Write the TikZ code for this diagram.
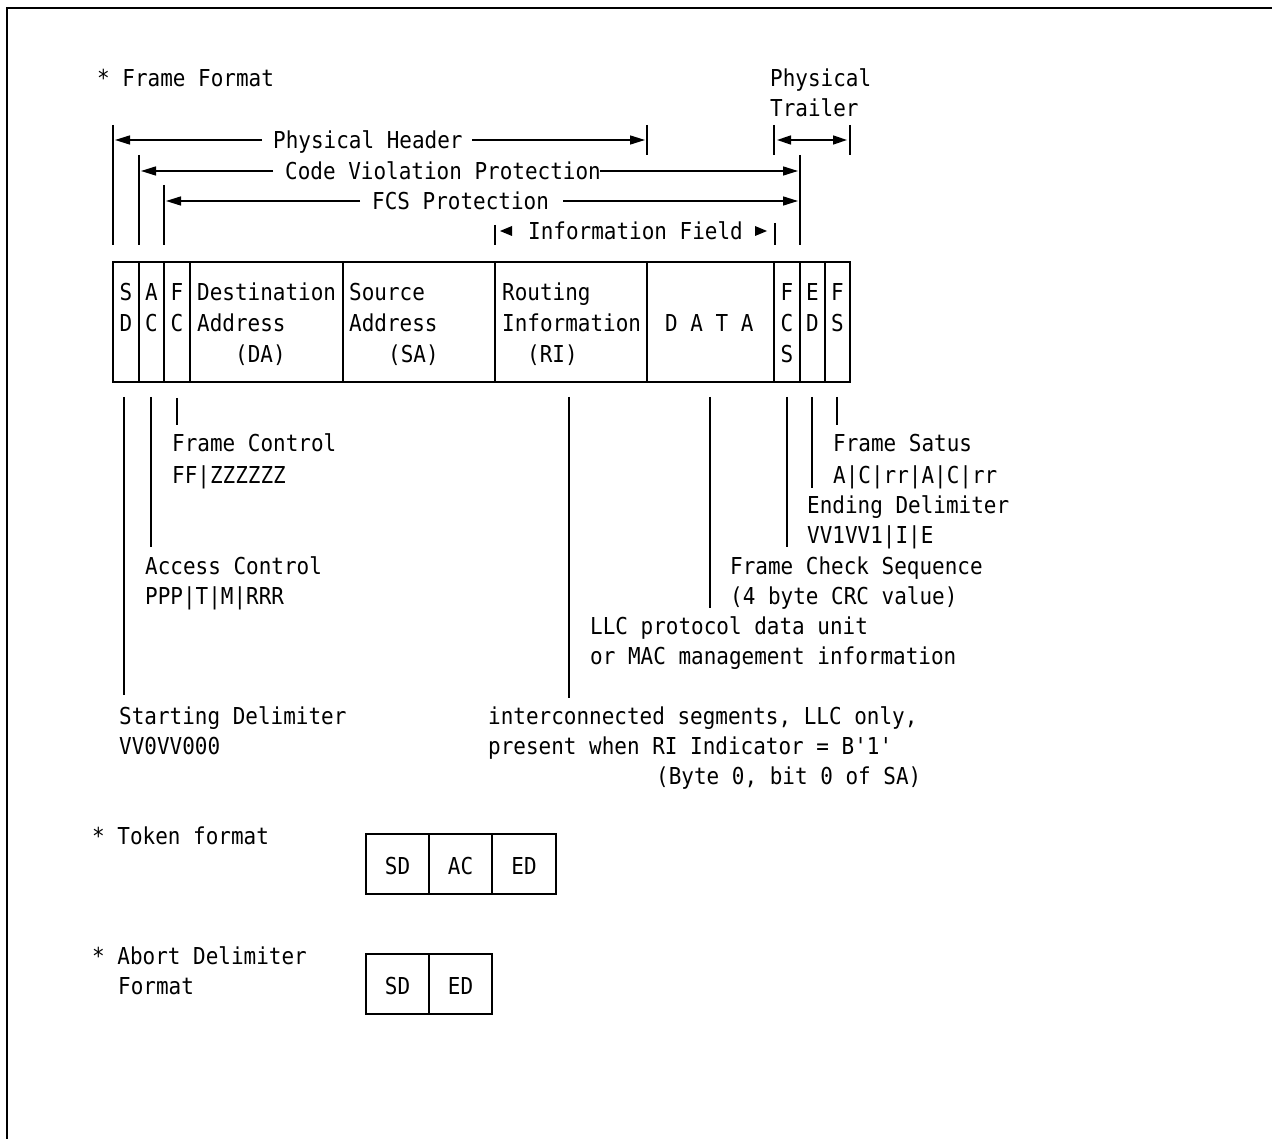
\documentclass[tikz,border=0pt]{standalone}
\usepackage{fontspec}
\newfontfamily\monofnt[FakeStretch=0.9]{DejaVu Sans Mono}
\usetikzlibrary{arrows.meta}
\newcommand\mfont{\monofnt\fontsize{23.3pt}{30pt}\selectfont}
\tikzset{
  bar/.style={line width=1.8pt},
  cell/.style={line width=1.8pt},
  arr/.style={line width=1.5pt,-{Triangle[length=15pt,width=9pt]}},
  darr/.style={line width=1.5pt,{Triangle[length=14pt,width=9pt]}-{Triangle[length=14pt,width=9pt]}},
  lbl/.style={anchor=base west,inner sep=0pt,font=\mfont},
  ctr/.style={anchor=base,inner sep=0pt,font=\mfont},
  tri/.style={fill=black,draw=none}
}
\begin{document}
\begin{tikzpicture}[x=1pt,y=-1pt]
\useasboundingbox (0,0) rectangle (1272,1139);
% outer frame
\draw[line width=2pt] (7,1139) -- (7,8) -- (1272,8);

% titles
\node[lbl] (ttl) at (97,87) {* Frame Format};
\node[lbl] (pt1) at (770,87) {Physical};
\node[lbl] (pt2) at (770,117) {Trailer};

% top bars
\coordinate (sdT) at (113,125); \coordinate (sdB) at (113,245);
\coordinate (acT) at (139,155); \coordinate (acB) at (139,245);
\coordinate (fcT) at (164,185); \coordinate (fcB) at (164,245);
\coordinate (phT) at (647,125); \coordinate (phB) at (647,155);
\coordinate (tlT) at (774,125); \coordinate (tlB) at (774,155);
\coordinate (trT) at (850,125); \coordinate (trB) at (850,155);
\coordinate (cvT) at (800,155); \coordinate (cvB) at (800,245);
\coordinate (ifLT) at (495,225); \coordinate (ifLB) at (495,245);
\coordinate (ifRT) at (775,223); \coordinate (ifRB) at (775,245);
\foreach \a/\b in {sdT/sdB,acT/acB,fcT/fcB,phT/phB,tlT/tlB,trT/trB,cvT/cvB,ifLT/ifLB,ifRT/ifRB}
  \draw[bar] (\a) -- (\b);

% Physical Header
\node[lbl] (ph) at (273,149) {Physical Header};
\draw[arr] (262,140) -- (115,140);
\draw[arr] (472,140) -- (645,140);
% Physical Trailer
\draw[darr] (777,140) -- (847,140);
% Code Violation Protection
\node[lbl] (cv) at (285,180) {Code Violation Protection};
\draw[arr] (273,171) -- (141,171);
\draw[arr] (600,171) -- (798,171);
% FCS Protection
\node[lbl] (fcsp) at (372,210) {FCS Protection};
\draw[arr] (360,201) -- (166,201);
\draw[arr] (563,201) -- (798,201);
% Information Field
\node[lbl] (inf) at (528,240) {Information Field};
\fill[tri] (500,231) -- (512,226) -- (512,236) -- cycle;
\fill[tri] (767,231) -- (755,226) -- (755,236) -- cycle;

% frame cells
\foreach \l/\r/\n in {113/139/cSD,139/164/cAC,164/190/cFC,190/343/cDA,343/495/cSA,495/647/cRI,647/774/cDATA,774/800/cFCS,800/825/cED,825/850/cFS}
  \draw[cell] (\l,262) rectangle (\r,382) coordinate (\n);

% cell texts
\node[ctr] (s1) at (126,301) {S};  \node[ctr] (s2) at (126,332) {D};
\node[ctr] (a1) at (151.5,301) {A};\node[ctr] (a2) at (151.5,332) {C};
\node[ctr] (f1) at (177,301) {F};  \node[ctr] (f2) at (177,332) {C};
\node[lbl] (da1) at (197,301) {Destination};
\node[lbl] (da2) at (197,332) {Address};
\node[lbl] (da3) at (235,363) {(DA)};
\node[lbl] (sa1) at (349,301) {Source};
\node[lbl] (sa2) at (349,332) {Address};
\node[lbl] (sa3) at (388,363) {(SA)};
\node[lbl] (ri1) at (502,301) {Routing};
\node[lbl] (ri2) at (502,332) {Information};
\node[lbl] (ri3) at (527,363) {(RI)};
\node[lbl] (dt) at (665,332) {D A T A};
\node[ctr] (fc1) at (787,301) {F}; \node[ctr] (fc2) at (787,332) {C}; \node[ctr] (fc3) at (787,363) {S};
\node[ctr] (ed1) at (812.5,301) {E}; \node[ctr] (ed2) at (812.5,332) {D};
\node[ctr] (fs1) at (837.5,301) {F}; \node[ctr] (fs2) at (837.5,332) {S};

% lower leader lines
\coordinate (lSD) at (124,397);  \coordinate (eSD) at (124,695);
\coordinate (lAC) at (151,397);  \coordinate (eAC) at (151,547);
\coordinate (lFC) at (177,398);  \coordinate (eFC) at (177,425);
\coordinate (lRI) at (569,397);  \coordinate (eRI) at (569,698);
\coordinate (lDT) at (710,397);  \coordinate (eDT) at (710,608);
\coordinate (lFCS) at (787,397); \coordinate (eFCS) at (787,547);
\coordinate (lED) at (812,397);  \coordinate (eED) at (812,488);
\coordinate (lFS) at (837,397);  \coordinate (eFS) at (837,425);
\foreach \a/\b in {lSD/eSD,lAC/eAC,lFC/eFC,lRI/eRI,lDT/eDT,lFCS/eFCS,lED/eED,lFS/eFS}
  \draw[bar] (\a) -- (\b);

% lower labels
\node[lbl] (fcl1) at (172,452) {Frame Control};
\node[lbl] (fcl2) at (172,483) {FF|ZZZZZZ};
\node[lbl] (acl1) at (145,574) {Access Control};
\node[lbl] (acl2) at (145,604) {PPP|T|M|RRR};
\node[lbl] (sdl1) at (119,724) {Starting Delimiter};
\node[lbl] (sdl2) at (119,754) {VV0VV000};
\node[lbl] (fsl1) at (833,452) {Frame Satus};
\node[lbl] (fsl2) at (833,483) {A|C|rr|A|C|rr};
\node[lbl] (edl1) at (807,513) {Ending Delimiter};
\node[lbl] (edl2) at (807,543) {VV1VV1|I|E};
\node[lbl] (fcsl1) at (730,574) {Frame Check Sequence};
\node[lbl] (fcsl2) at (730,604) {(4 byte CRC value)};
\node[lbl] (dtl1) at (590,634) {LLC protocol data unit};
\node[lbl] (dtl2) at (590,664) {or MAC management information};
\node[lbl] (ril1) at (488,724) {interconnected segments, LLC only,};
\node[lbl] (ril2) at (488,754) {present when RI Indicator = B'1'};
\node[lbl] (ril3) at (656,784) {(Byte 0, bit 0 of SA)};

% token format
\node[lbl] (tok) at (92,844) {* Token format};
\draw[cell] (366,834) rectangle (429,894);
\draw[cell] (429,834) rectangle (492,894);
\draw[cell] (492,834) rectangle (556,894);
\node[ctr] (tsd) at (397.5,874) {SD};
\node[ctr] (tac) at (460.5,874) {AC};
\node[ctr] (ted) at (524,874) {ED};

% abort delimiter format
\node[lbl] (ab1) at (92,964) {* Abort Delimiter};
\node[lbl] (ab2) at (118,994) {Format};
\draw[cell] (366,954) rectangle (429,1014);
\draw[cell] (429,954) rectangle (492,1014);
\node[ctr] (asd) at (397.5,994) {SD};
\node[ctr] (aed) at (460.5,994) {ED};
\end{tikzpicture}
\end{document}
